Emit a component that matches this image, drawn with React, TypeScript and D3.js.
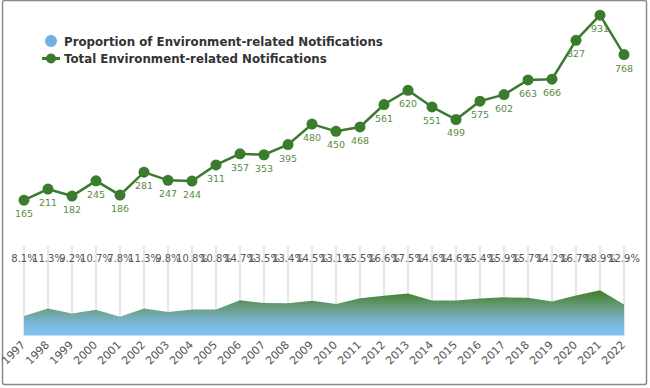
import * as d3 from 'd3'

const years = ['1997', '1998', '1999', '2000', '2001', '2002', '2003', '2004', '2005', '2006', '2007', '2008', '2009', '2010', '2011', '2012', '2013', '2014', '2015', '2016', '2017', '2018', '2019', '2020', '2021', '2022']
const totals = [165, 211, 182, 245, 186, 281, 247, 244, 311, 357, 353, 395, 480, 450, 468, 561, 620, 551, 499, 575, 602, 663, 666, 827, 931, 768]
const proportions = [8.1, 11.3, 9.2, 10.7, 7.8, 11.3, 9.8, 10.8, 10.8, 14.7, 13.5, 13.4, 14.5, 13.1, 15.5, 16.6, 17.5, 14.6, 14.6, 15.4, 15.9, 15.7, 14.2, 16.7, 18.9, 12.9]
const legendLabels = ['Proportion of Environment-related Notifications', 'Total Environment-related Notifications']

const width = 650
const height = 388
const font = '"DejaVu Sans", Verdana, sans-serif'
const lineColor = '#3b7b2e'

export default function App() {
  // shared x scale for both panels
  const x = d3.scalePoint<string>().domain(years).range([24, 624])
  const yTop = d3.scaleLinear().domain([0, 1000]).range([240, -1.5])
  const yBot = d3.scaleLinear().domain([0, 40]).range([335.5, 239.5])

  const line = d3.line<number>()
    .x((_, i) => x(years[i])!)
    .y(d => yTop(d))

  const area = d3.area<number>()
    .x((_, i) => x(years[i])!)
    .y0(yBot(0))
    .y1(d => yBot(d))

  return (
    <svg width={width} height={height} style={{ position: 'absolute', left: 0, top: 0, display: 'block' }} fontFamily={font}>
      <defs>
        <linearGradient id="areaFill" gradientUnits="userSpaceOnUse" x1="0" y1={yBot(19)} x2="0" y2={yBot(0)}>
          <stop offset="0" stopColor="#3f7d22" />
          <stop offset="0.4" stopColor="#6a9e84" />
          <stop offset="0.75" stopColor="#7bb8dc" />
          <stop offset="1" stopColor="#84c4f0" />
        </linearGradient>
      </defs>
      <rect x={0} y={0} width={width} height={height} fill="#fff" />
      <rect x={2.5} y={0.5} width={644} height={384} fill="none" stroke="#8a8a8a" strokeWidth={1.5} rx={2} />

      {/* legend */}
      <circle cx={51} cy={41} r={6} fill="#6fb1e4" />
      <text x={64} y={45.5} fontSize={11.8} fontWeight="bold" fill="#333">{legendLabels[0]}</text>
      <line x1={42} x2={60} y1={58.5} y2={58.5} stroke={lineColor} strokeWidth={3} />
      <circle cx={51} cy={58.5} r={5} fill={lineColor} />
      <text x={64} y={63} fontSize={11.8} fontWeight="bold" fill="#333">{legendLabels[1]}</text>

      {/* top line chart */}
      <path d={line(totals) ?? ''} fill="none" stroke={lineColor} strokeWidth={2.5} />
      {totals.map((v, i) => (
        <g key={years[i]}>
          <circle cx={x(years[i])} cy={yTop(v)} r={5.5} fill={lineColor} />
          <text x={x(years[i])} y={yTop(v) + 17} textAnchor="middle" fontSize={9.5} fill="#578c44">{v}</text>
        </g>
      ))}

      {/* bottom area chart */}
      {years.map(yr => (
        <line key={yr} x1={x(yr)} x2={x(yr)} y1={246} y2={yBot(0)} stroke="#cfcfcf" strokeWidth={1} />
      ))}
      <path d={area(proportions) ?? ''} fill="url(#areaFill)" />
      {proportions.map((p, i) => (
        <text key={years[i]} x={x(years[i])} y={262} textAnchor="middle" fontSize={10} fill="#555">{p.toFixed(1)}%</text>
      ))}
      {years.map(yr => (
        <text key={yr} transform={`translate(${x(yr)! + 2},${yBot(0) + 10}) rotate(-45)`} textAnchor="end" fontSize={11} fill="#555">{yr}</text>
      ))}
    </svg>
  )
}
